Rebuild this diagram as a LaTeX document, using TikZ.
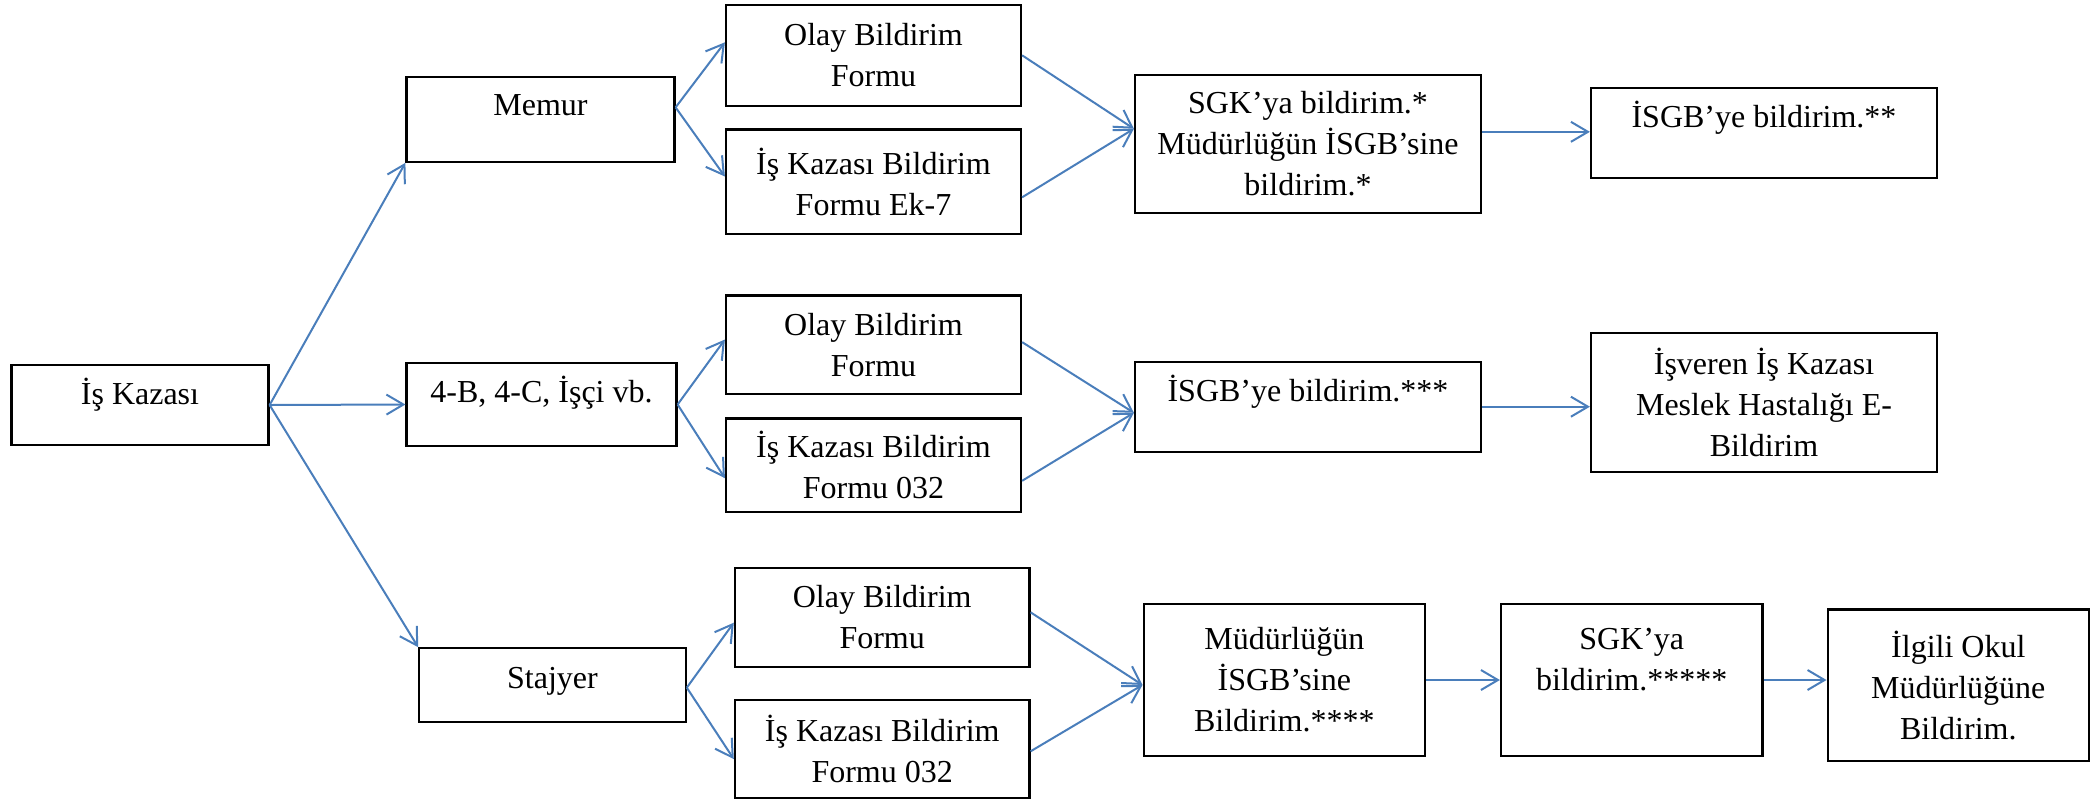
\documentclass[tikz,border=0pt]{standalone}
\usepackage{fontspec}
\setmainfont{Liberation Serif}
\usetikzlibrary{arrows.meta,calc}
\definecolor{connblue}{RGB}{74,126,187}
\tikzset{
  box/.style={draw=black, line width=1.1pt, inner sep=2pt, fill=white,
    font=\fontsize{16}{20.5}\selectfont},
  mbox/.style={box, align=center},
  lift/.style={text height=10.6pt, text depth=#1},
  conn/.style={draw=connblue, line width=1pt,
    -{Straight Barb[length=8.5pt,width=10pt,line width=1pt]}}
}
\begin{document}
\begin{tikzpicture}[x=0.5pt,y=-0.5pt]
\useasboundingbox (0,0) rectangle (2091,799);
% column 1
\node[box, lift=11pt, minimum width=128.5pt, minimum height=40pt] (kaza) at (140,405) {İş Kazası};
% column 2
\node[box, lift=14pt, minimum width=134pt, minimum height=42.5pt] (memur) at (540.5,119.2) {Memur};
\node[box, lift=13pt, minimum width=135pt, minimum height=41.2pt] (dortb) at (541.5,404.5) {4-B, 4-C, İşçi vb.};
\node[box, lift=7pt, minimum width=133.2pt, minimum height=37pt] (stajyer) at (552.5,685.3) {Stajyer};
% column 3
\node[mbox, minimum width=147.5pt, minimum height=50.7pt] (olay1) at (873.5,55.3) {Olay Bildirim\\Formu};
\node[mbox, minimum width=147.5pt, minimum height=52.3pt] (ek7) at (873.5,181.7) {İş Kazası Bildirim\\Formu Ek-7};
\node[mbox, minimum width=147.5pt, minimum height=49.3pt] (olay2) at (873.5,344.7) {Olay Bildirim\\Formu};
\node[mbox, minimum width=147.5pt, minimum height=46.8pt] (fa) at (873.5,465.2) {İş Kazası Bildirim\\Formu 032};
\node[mbox, minimum width=147.3pt, minimum height=49.2pt] (olay3) at (882.2,617.5) {Olay Bildirim\\Formu};
\node[mbox, minimum width=147.3pt, minimum height=49pt] (fb) at (882.2,748.7) {İş Kazası Bildirim\\Formu 032};
% column 4
\node[mbox, minimum width=173pt, minimum height=69.3pt] (sgka) at (1308,144) {SGK’ya bildirim.*\\Müdürlüğün İSGB’sine\\bildirim.*};
\node[box, lift=16pt, minimum width=173pt, minimum height=45pt] (isgbb) at (1308,406.7) {İSGB’ye bildirim.***};
\node[mbox, minimum width=140.7pt, minimum height=76pt] (mud) at (1284.3,680) {Müdürlüğün\\İSGB’sine\\Bildirim.****};
% column 5
\node[box, lift=16pt, minimum width=173pt, minimum height=45pt] (isgba) at (1764,133.3) {İSGB’ye bildirim.**};
\node[mbox, minimum width=173pt, minimum height=69.2pt] (isveren) at (1764,402.5) {İşveren İş Kazası\\Meslek Hastalığı E-\\Bildirim};
\node[mbox, minimum width=130.7pt, minimum height=76pt] (sgkb) at (1631.7,680) {SGK’ya\\bildirim.*****\\\mbox{}};
\node[mbox, minimum width=130.7pt, minimum height=75.8pt] (ilgili) at (1958.3,685.2) {İlgili Okul\\Müdürlüğüne\\Bildirim.};
% connectors
\draw[conn] (kaza.east) -- (memur.south west);
\draw[conn] (kaza.east) -- (dortb.west);
\draw[conn] (kaza.east) -- (stajyer.north west);
\draw[conn] (memur.5.3) -- (olay1.175.2);
\draw[conn] (memur.5.3) -- (ek7.178.6);
\draw[conn] (olay1.east) -- (sgka.175.4);
\draw[conn] (ek7.-6.7) -- (sgka.175.4);
\draw[conn] (sgka.4.6) -- (sgka.4.6 -| isgba.west);
\draw[conn] (dortb.east) -- (olay2.178.8);
\draw[conn] (dortb.east) -- (fa.185);
\draw[conn] (olay2.1.6) -- (isgbb.182.7);
\draw[conn] (fa.-6.9) -- (isgbb.182.7);
\draw[conn] (isgbb.east) -- (isgbb.east -| isveren.west);
\draw[conn] (stajyer.-1.2) -- (olay3.182.9);
\draw[conn] (stajyer.-1.2) -- (fb.184.4);
\draw[conn] (olay3.2.25) -- (mud.182);
\draw[conn] (fb.-1.8) -- (mud.182);
\draw[conn] (mud.east) -- (mud.east -| sgkb.west);
\draw[conn] (sgkb.east) -- (sgkb.east -| ilgili.west);
\end{tikzpicture}
\end{document}
